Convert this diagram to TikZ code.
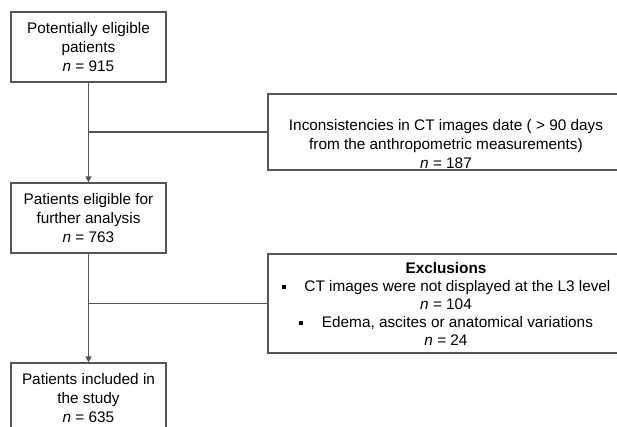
\documentclass[tikz,border=0pt]{standalone}
\usepackage{fontspec}
\setmainfont{Liberation Sans}
\usetikzlibrary{arrows.meta,positioning}
\tikzset{
  box/.style={draw=linegray, line width=1pt, fill=white, inner sep=0pt, align=center,
    font=\fontsize{11.5}{14.2}\selectfont},
  conn/.style={draw=linegray, line width=1pt},
  arr/.style={conn, -{Triangle[length=4.5pt,width=4.5pt]}}
}
\definecolor{linegray}{HTML}{555555}
\newcommand{\blt}{\raisebox{0.25ex}{\rule{3.2pt}{3.2pt}}\hspace{14pt}}
\begin{document}
\begin{tikzpicture}[x=0.75pt,y=-0.75pt]
\clip (0,0) rectangle (617,426);
\fill[white] (0,0) rectangle (617,426);
\node[box, minimum width=116.25pt, minimum height=52.5pt] (b1) at (88.5,47)
  {Potentially eligible\\patients\\\textit{n} = 915};
\node[box, minimum width=116.25pt, minimum height=52.5pt] (b2) at (88.5,218)
  {Patients eligible for\\further analysis\\\textit{n} = 763};
\node[box, minimum width=116.25pt, minimum height=52.5pt] (b3) at (88.5,398)
  {Patients included in\\the study\\\textit{n} = 635};
\node[box, minimum width=267pt, minimum height=57pt, text depth=0pt] (r1) at (446,132)
  {\raisebox{-3pt}{\parbox{260pt}{\centering Inconsistencies in CT images date ( \textgreater{} 90 days\\from the anthropometric measurements)\\\textit{n} = 187}}};
\node[box, minimum width=267pt, minimum height=74.25pt, font=\fontsize{11.5}{13.5}\selectfont] (r2) at (446,303.5)
  {\textbf{Exclusions}\\\blt CT images were not displayed at the L3 level\\\textit{n} = 104\\\blt Edema, ascites or anatomical variations\\\textit{n} = 24};
\coordinate (j1) at (b1.south |- r1.west);
\coordinate (j2) at (b2.south |- r2.west);
\draw[arr] (b1.south) -- (b2.north);
\draw[arr] (b2.south) -- (b3.north);
\draw[conn] (j1) -- (r1.west);
\draw[conn] (j2) -- (r2.west);
\end{tikzpicture}
\end{document}
